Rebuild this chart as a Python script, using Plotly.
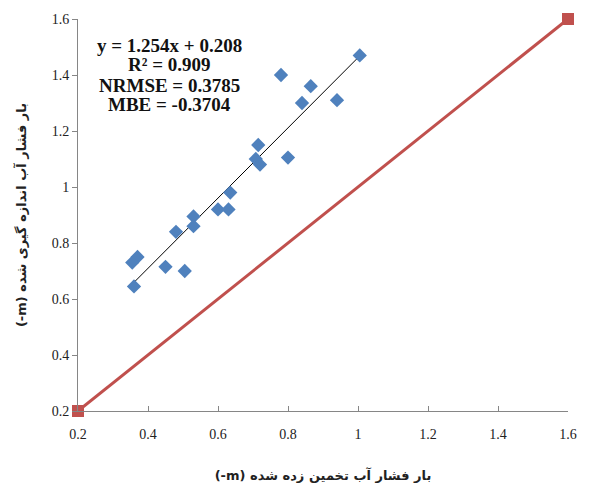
import plotly.graph_objects as go

# Estimated (predicted) pressure head vs measured pressure head
estimated = [1.005, 0.78, 0.865, 0.84, 0.94, 0.715, 0.80, 0.708, 0.72, 0.635,
             0.60, 0.63, 0.53, 0.53, 0.48, 0.37, 0.355, 0.45, 0.505, 0.36]
measured = [1.47, 1.40, 1.36, 1.30, 1.31, 1.15, 1.105, 1.10, 1.08, 0.98,
            0.92, 0.92, 0.895, 0.86, 0.84, 0.75, 0.73, 0.715, 0.70, 0.645]

slope = 1.254
intercept = 0.208
one_to_one = [0.2, 1.6]
tick_vals = [0.2, 0.4, 0.6, 0.8, 1.0, 1.2, 1.4, 1.6]
tick_text = ["0.2", "0.4", "0.6", "0.8", "1", "1.2", "1.4", "1.6"]
stats_lines = ["y = 1.254x + 0.208", "R² = 0.909", "NRMSE = 0.3785", "MBE = -0.3704"]
x_title = "(-m) بار فشار آب تخمین زده شده"
y_title = "(-m) بار فشار آب اندازه گیری شده"

x_fit = [min(estimated), max(estimated)]
y_fit = [slope * v + intercept for v in x_fit]

fig = go.Figure()
fig.add_trace(go.Scatter(x=one_to_one, y=one_to_one, mode="lines+markers",
                         line=dict(color="#C0504D", width=3),
                         marker=dict(symbol="square", size=12, color="#C0504D"),
                         cliponaxis=False, showlegend=False))
fig.add_trace(go.Scatter(x=x_fit, y=y_fit, mode="lines",
                         line=dict(color="black", width=1), showlegend=False))
fig.add_trace(go.Scatter(x=estimated, y=measured, mode="markers",
                         marker=dict(symbol="diamond", size=11, color="#4F81BD"),
                         cliponaxis=False, showlegend=False))

axis_common = dict(range=[0.2, 1.6], tickvals=tick_vals, ticktext=tick_text,
                   showgrid=False, zeroline=False, showline=True,
                   linecolor="#868686", linewidth=1, ticklen=5, tickcolor="#868686",
                   tickfont=dict(family="Liberation Serif", size=14, color="#222222"))

fig.update_xaxes(**axis_common, ticks="inside", ticklabelstandoff=10,
                 title=dict(text="<b>" + x_title + "</b>", standoff=30,
                            font=dict(family="DejaVu Sans", size=13, color="#222222")))
fig.update_yaxes(**axis_common, ticks="outside",
                 title=dict(text="<b>" + y_title + "</b>", standoff=22,
                            font=dict(family="DejaVu Sans", size=13, color="#222222")))

line_y = [1.505, 1.437, 1.363, 1.296]
for txt, yy in zip(stats_lines, line_y):
    fig.add_annotation(x=0.46, y=yy, xref="x", yref="y",
                       text="<b>" + txt + "</b>",
                       showarrow=False, align="center", yanchor="middle",
                       font=dict(family="Liberation Serif", size=19, color="#111111"))

fig.update_layout(width=589, height=493, margin=dict(l=78, r=12, t=17, b=80),
                  paper_bgcolor="white", plot_bgcolor="white")

fig.write_html("out.html")
